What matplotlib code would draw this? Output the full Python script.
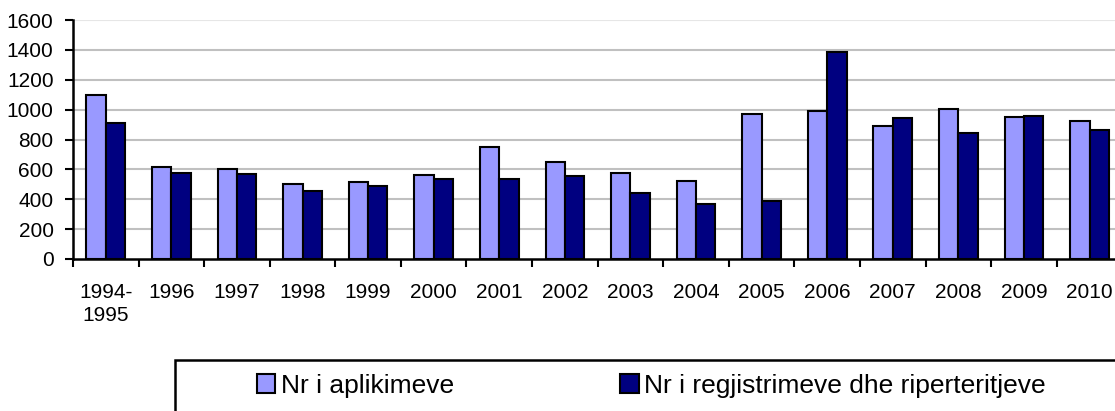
import matplotlib
matplotlib.use("Agg")
import matplotlib.pyplot as plt
from matplotlib.patches import Rectangle
import numpy as np

plt.rcParams['font.family'] = ['Liberation Sans', 'DejaVu Sans']

years = ['1994-\n1995', '1996', '1997', '1998', '1999', '2000', '2001', '2002',
         '2003', '2004', '2005', '2006', '2007', '2008', '2009', '2010']
aplikime = [1095, 614, 603, 505, 513, 562, 748, 649, 578, 522, 969, 993, 888, 1004, 949, 926]
regjistrime = [908, 574, 571, 457, 487, 536, 536, 553, 444, 368, 390, 1388, 946, 846, 959, 864]
yticks = [0, 200, 400, 600, 800, 1000, 1200, 1400, 1600]

light = '#9999ff'
dark = '#000080'

fig = plt.figure(figsize=(11.15, 4.11), dpi=100)
ax = fig.add_axes([73 / 1115, 1 - 259 / 411, (1122.3 - 73) / 1115, (259 - 20) / 411])

x = np.arange(len(years))
w = 0.295
# gridlines behind the bars
for t in yticks[1:]:
    col = '#e6e6e6' if t == yticks[-1] else '#c0c0c0'
    ax.axhline(t, color=col, lw=1.5, zorder=0)

ax.bar(x - w / 2, aplikime, w, color=light, edgecolor='black', linewidth=1.5,
       label='Nr i aplikimeve', zorder=2)
ax.bar(x + w / 2, regjistrime, w, color=dark, edgecolor='black', linewidth=1.5,
       label='Nr i regjistrimeve dhe riperteritjeve', zorder=2)

ax.set_xlim(-0.5, len(years) - 0.5)
ax.set_ylim(0, 1600)
ax.set_yticks(yticks)
ax.set_xticks(np.arange(len(years) + 1) - 0.5)
ax.set_xticklabels([])
ax.set_xticks(x, minor=True)
ax.set_xticklabels(years, minor=True, multialignment='center', linespacing=1.3)
ax.tick_params(axis='x', which='minor', length=0, pad=17, labelsize=15)
ax.tick_params(axis='x', which='major', length=6, width=1.5, direction='out')
ax.tick_params(axis='y', length=6, width=1.5, pad=8, labelsize=15)

for s in ['top', 'right']:
    ax.spines[s].set_visible(False)
for s in ['left', 'bottom']:
    ax.spines[s].set_linewidth(1.8)
    ax.spines[s].set_zorder(3)

# legend frame running off the page edge
fig.patches.append(Rectangle((175 / 1115, -0.2), 1.2, 1 - 360 / 411 + 0.2,
                             transform=fig.transFigure, fill=False,
                             edgecolor='black', linewidth=1.8))
fig.legend(loc='center left', bbox_to_anchor=(257 / 1115, 1 - 385.5 / 411),
           ncol=2, frameon=False, fontsize=19, borderpad=0, borderaxespad=0,
           handlelength=0.7, handleheight=0.7, handletextpad=0.2,
           columnspacing=6.3)

fig.savefig('out.png', dpi=100)
